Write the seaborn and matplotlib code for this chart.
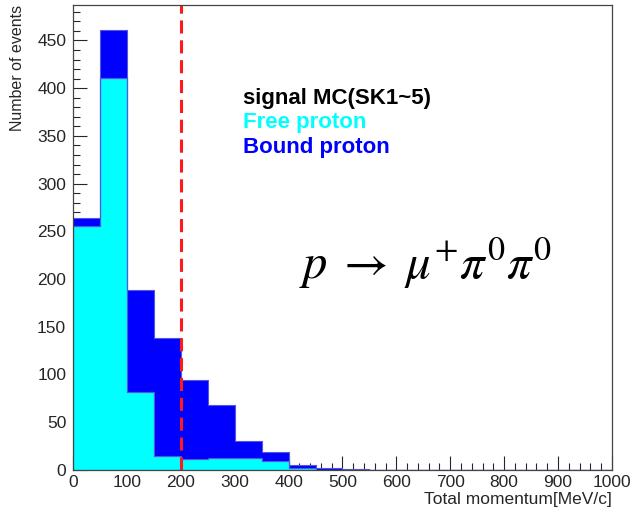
import numpy as np
import pandas as pd
import matplotlib
matplotlib.use("Agg")
import matplotlib.pyplot as plt
from matplotlib.ticker import MultipleLocator
import seaborn as sns

# ── Data ──────────────────────────────────────────────────
bin_edges = list(range(0, 1050, 50))
free_proton  = [256, 411, 82, 15, 11, 13, 12, 9, 2, 0, 0, 0, 0, 0, 0, 0, 0, 0, 0, 0]
bound_proton = [8, 50, 107, 123, 83, 55, 18, 10, 3, 2, 1, 0, 0, 0, 0, 0, 0, 0, 0, 0]
cut_value = 200

centers = [(a + b) / 2 for a, b in zip(bin_edges[:-1], bin_edges[1:])]
df = pd.DataFrame({
    "momentum": centers + centers,
    "count": free_proton + bound_proton,
    "type": ["Free proton"] * len(centers) + ["Bound proton"] * len(centers),
})

sns.set_style("ticks")
plt.rcParams["font.family"] = ["Liberation Sans", "DejaVu Sans"]
plt.rcParams["mathtext.fontset"] = "stix"

fig = plt.figure(figsize=(6.36, 5.13), dpi=100)
ax = fig.add_axes([0.115, 0.084, 0.847, 0.906])

# stacked histogram: free proton at the bottom, bound proton on top
sns.histplot(data=df, x="momentum", weights="count", hue="type",
             hue_order=["Bound proton", "Free proton"],
             bins=bin_edges, multiple="stack", element="step",
             palette={"Free proton": "#00ffff", "Bound proton": "#0000ff"},
             alpha=1, edgecolor="#5555dd", linewidth=0.8, legend=False, ax=ax)

ax.axvline(cut_value, color="#ff1a1a", lw=2.2, ls=(0, (4.3, 2.2)))

ax.set_xlim(0, 1000)
ax.set_ylim(0, 487)
ax.xaxis.set_major_locator(MultipleLocator(100))
ax.xaxis.set_minor_locator(MultipleLocator(20))
ax.yaxis.set_major_locator(MultipleLocator(50))
ax.yaxis.set_minor_locator(MultipleLocator(10))
ax.tick_params(which="major", direction="in", length=10, labelsize=12.5, width=0.8)
ax.tick_params(which="minor", direction="in", length=5, width=0.8)
ax.tick_params(axis="x", pad=4)
ax.tick_params(axis="y", pad=5)
for s in ax.spines.values():
    s.set_linewidth(0.9)
    s.set_color("#444444")

ax.set_xlabel("Total momentum[MeV/c]", fontsize=12.5, loc="right", labelpad=1)
ax.set_ylabel("Number of events", fontsize=11.5, loc="top", labelpad=9)

ax.text(0.316, 0.788, "signal MC(SK1~5)", transform=ax.transAxes,
        fontsize=16, fontweight="bold", color="black")
ax.text(0.316, 0.735, "Free proton", transform=ax.transAxes,
        fontsize=16, fontweight="bold", color="#00ffff")
ax.text(0.316, 0.682, "Bound proton", transform=ax.transAxes,
        fontsize=16, fontweight="bold", color="#0000ff")
ax.text(0.42, 0.41, r"$p\;\rightarrow\;\mu^{+}\pi^{0}\pi^{0}$", transform=ax.transAxes,
        fontsize=35, color="black")

fig.savefig("out.png", dpi=100)
